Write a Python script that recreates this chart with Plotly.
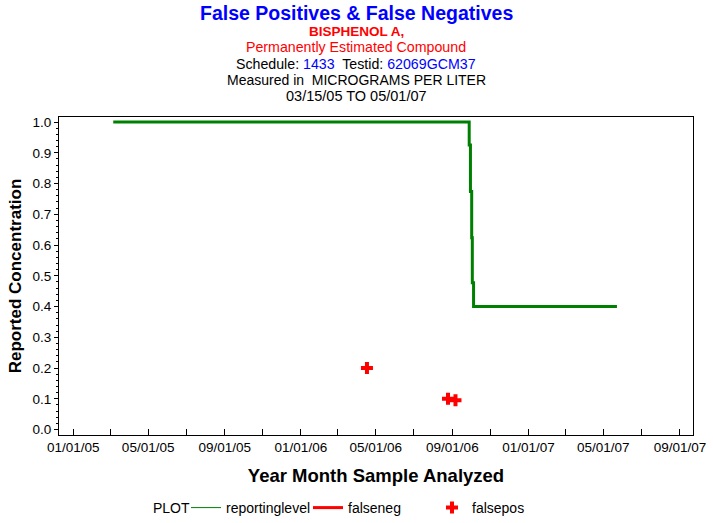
import plotly.graph_objects as go

# Data
rl_dates = ["2005-03-06", "2006-09-28", "2006-09-30", "2006-10-02", "2006-10-03", "2006-10-05", "2007-05-23"]
rl_values = [1.0, 0.925, 0.774, 0.624, 0.477, 0.40, 0.40]
fp_dates = ["2006-04-17", "2006-08-25", "2006-09-06"]
fp_values = [0.20, 0.10, 0.095]
fn_dates = [None]
fn_values = [None]

FONT = "Liberation Sans, Arial, sans-serif"

fig = go.Figure()
fig.add_trace(go.Scatter(x=rl_dates, y=rl_values, mode="lines", line_shape="hv",
                         line=dict(color="#008000", width=3), name="reportinglevel",
                         showlegend=False))
# legend-only entries
fig.add_trace(go.Scatter(x=[None], y=[None], mode="lines",
                         line=dict(color="#008000", width=1), name="reportinglevel",
                         legend="legend"))
fig.add_trace(go.Scatter(x=fn_dates, y=fn_values, mode="lines",
                         line=dict(color="#ff0000", width=3), name="falseneg",
                         legend="legend2"))
fig.add_trace(go.Scatter(x=fp_dates, y=fp_values, mode="markers",
                         marker=dict(symbol="cross", size=10, color="#ff0000"),
                         name="falsepos", legend="legend3"))

plot_top, plot_bot = 117, 435
plot_left, plot_right = 59, 693
H = plot_bot - plot_top
W = plot_right - plot_left

def py(ypx):
    return (plot_bot - ypx) / H

def px(xpx):
    return (xpx - plot_left) / W

titles = [
    (13, "<b>False Positives & False Negatives</b>", 19.5, "#0000ff"),
    (31, "<b>BISPHENOL A,</b>", 13.5, "#ff0000"),
    (47, "Permanently Estimated Compound", 14.2, "#ff0000"),
    (64, "Schedule: <span style='color:#0000ff'>1433</span>&nbsp; Testid: <span style='color:#0000ff'>62069GCM37</span>", 14.2, "#000000"),
    (80, "Measured in &nbsp;MICROGRAMS PER LITER", 14, "#000000"),
    (96, "03/15/05 TO 05/01/07", 14.5, "#000000"),
]
ann = []
for ypx, txt, sz, col in titles:
    ann.append(dict(text=txt, x=px(356), xref="paper", y=py(ypx), yref="paper",
                    xanchor="center", yanchor="middle", showarrow=False,
                    font=dict(family=FONT, size=sz, color=col)))
ann.append(dict(text="PLOT", x=px(151), y=py(508), xref="paper", yref="paper",
                xanchor="left", yanchor="middle", showarrow=False,
                font=dict(family=FONT, size=14, color="#000000")))

leg_common = dict(orientation="h", yanchor="middle", xanchor="left", bgcolor="rgba(0,0,0,0)",
                  font=dict(family=FONT, size=14, color="#000000"), itemwidth=30)

fig.update_layout(
    width=713, height=523,
    margin=dict(l=plot_left, r=713 - plot_right, t=plot_top, b=523 - plot_bot, autoexpand=False),
    paper_bgcolor="white", plot_bgcolor="white",
    font=dict(family=FONT, size=13, color="#000000"),
    showlegend=True,
    legend=dict(x=px(186), y=py(508), **leg_common),
    legend2=dict(x=px(308), y=py(508), **leg_common),
    legend3=dict(x=px(432), y=py(508), **leg_common),
    annotations=ann,
    xaxis=dict(
        type="date", range=["2004-12-09", "2007-09-22"],
        tick0="2005-01-01", dtick="M4", tickformat="%m/%d/%y",
        ticks="inside", ticklen=6, tickcolor="#000000",
        minor=dict(dtick="M2", ticks="inside", ticklen=6, tickcolor="#000000", showgrid=False),
        showline=True, linecolor="#000000", linewidth=1, mirror=True,
        showgrid=False, zeroline=False, ticklabeloverflow="allow",
        tickfont=dict(family=FONT, size=13.5, color="#000000"),
        title=dict(text="<b>Year Month Sample Analyzed</b>", standoff=14,
                   font=dict(family=FONT, size=18.5, color="#000000")),
    ),
    yaxis=dict(
        range=[-0.0176, 1.0163], tick0=0, dtick=0.1, tickformat=".1f",
        ticks="outside", ticklen=4, tickcolor="#000000",
        minor=dict(dtick=0.02, ticks="outside", ticklen=2, tickcolor="#000000", showgrid=False),
        showline=True, linecolor="#000000", linewidth=1, mirror=True,
        showgrid=False, zeroline=False,
        tickfont=dict(family=FONT, size=13.5, color="#000000"),
        title=dict(text="<b>Reported Concentration</b>", standoff=6,
                   font=dict(family=FONT, size=17, color="#000000")),
    ),
)

fig.write_html("out.html", config={"displayModeBar": False},
               post_script="document.body.style.margin='0';document.body.style.overflow='hidden';")
